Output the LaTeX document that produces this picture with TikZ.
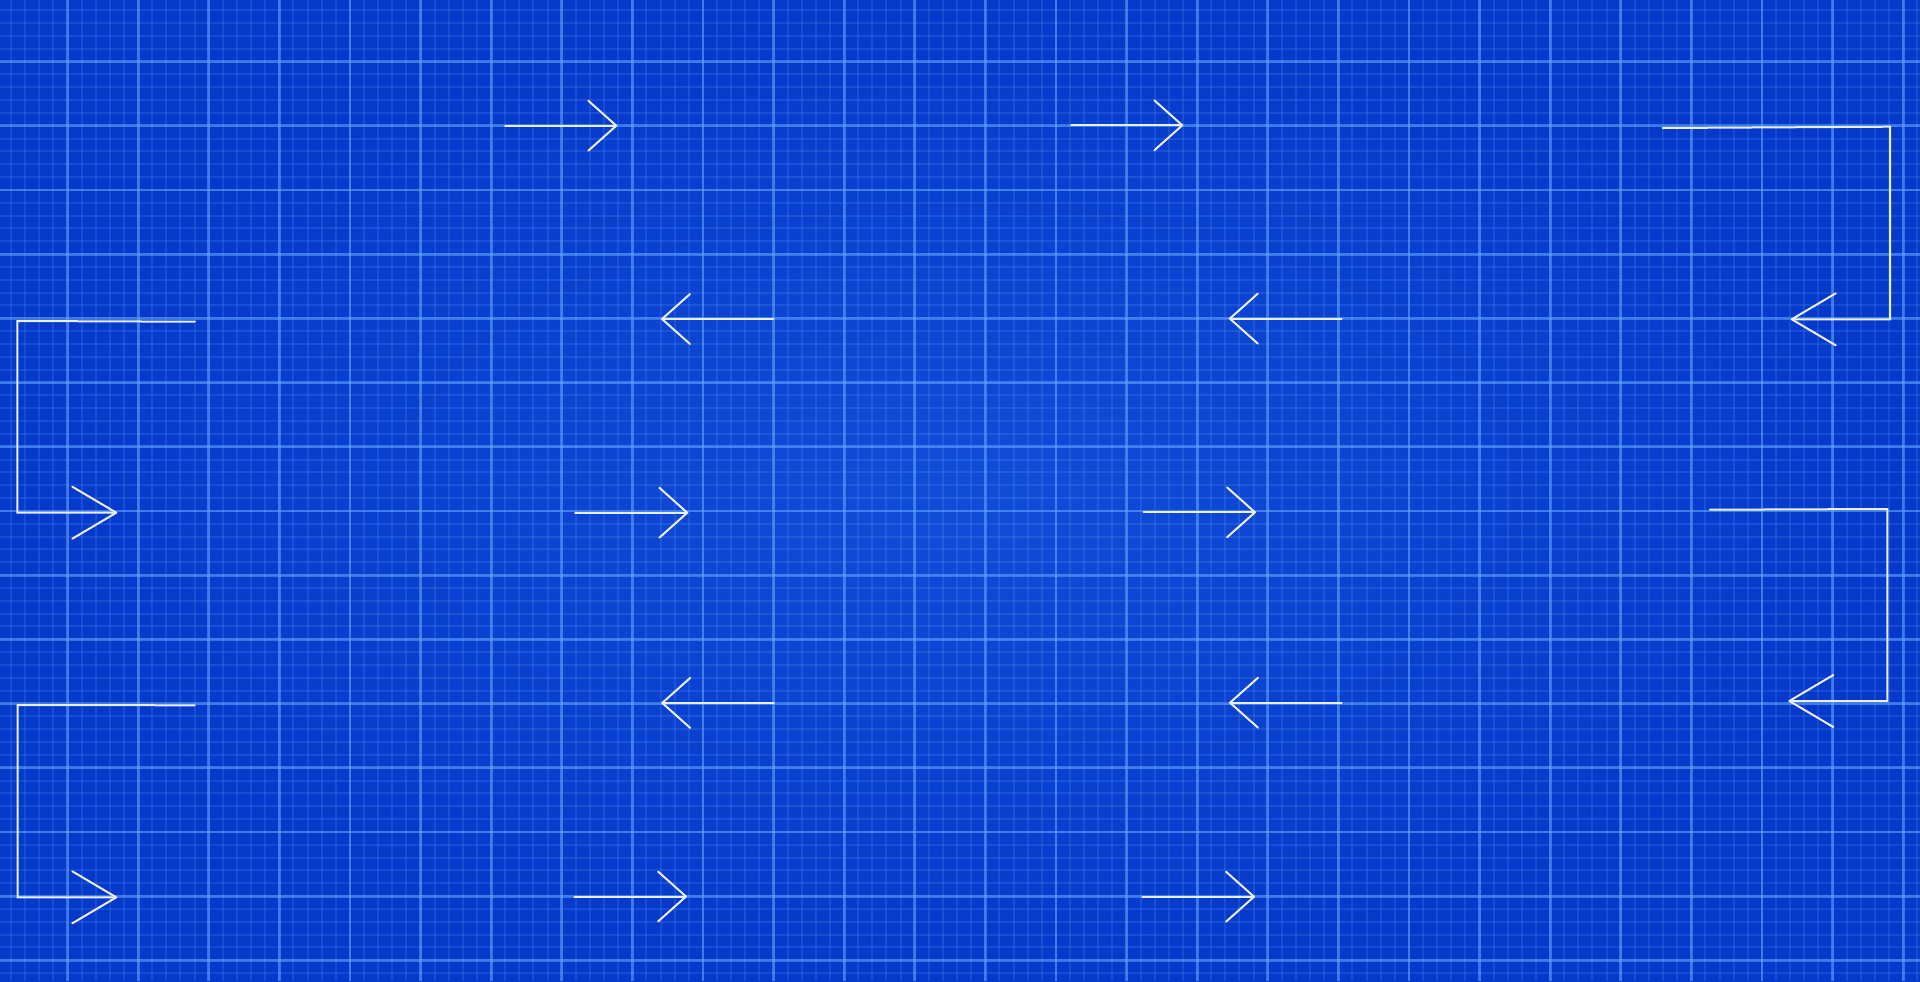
\documentclass[tikz,border=0pt]{standalone}
\usetikzlibrary{arrows.meta}
\definecolor{bgin}{RGB}{17,76,215}
\definecolor{bgout}{RGB}{6,56,202}
\definecolor{gridcol}{RGB}{100,170,255}
\definecolor{arrowcol}{RGB}{232,238,250}
\tikzset{
  majorline/.style={draw=gridcol, draw opacity=0.5, line width=1.4pt},
  minorline/.style={draw=gridcol, draw opacity=0.18, line width=1pt},
  straightarrow/.style={draw=arrowcol, line width=1pt, line cap=round, line join=round,
    -{Straight Barb[length=14pt, width=25pt, line join=round, round]}},
  bentarrow/.style={draw=arrowcol, line width=1pt, line cap=round, line join=miter,
    -{Straight Barb[length=22pt, width=26pt, line join=round, round]}}
}
\begin{document}
\begin{tikzpicture}[x=0.5pt, y=-0.5pt]
  % background
  \useasboundingbox (0,0) rectangle (1920,981);
  \shade[inner color=bgin, outer color=bgout] (0,0) rectangle (1920,981);
  % minor grid
  \foreach \i in {-4,...,131} {
    \pgfmathsetmacro{\gx}{67.5+14.12*\i}
    \draw[minorline] (\gx,0) -- (\gx,981);
  }
  \foreach \j in {-4,...,71} {
    \pgfmathsetmacro{\gy}{61.5+12.84*\j}
    \draw[minorline] (0,\gy) -- (1920,\gy);
  }
  % major grid
  \foreach \i in {-1,...,26} {
    \pgfmathsetmacro{\gx}{67.5+70.6*\i}
    \draw[majorline] (\gx,0) -- (\gx,981);
  }
  \foreach \j in {-1,...,14} {
    \pgfmathsetmacro{\gy}{61.5+64.2*\j}
    \draw[majorline] (0,\gy) -- (1920,\gy);
  }
  % coordinates of straight arrows
  \coordinate (r1as) at (505,125.7);   \coordinate (r1at) at (617.3,125.7);
  \coordinate (r1bs) at (1071,125.3);  \coordinate (r1bt) at (1183.3,125.3);
  \coordinate (r2as) at (773.3,319);   \coordinate (r2at) at (661,319);
  \coordinate (r2bs) at (1341.5,318.6);\coordinate (r2bt) at (1228.8,318.6);
  \coordinate (r3as) at (575,512.7);   \coordinate (r3at) at (688.3,512.7);
  \coordinate (r3bs) at (1143.5,512.3);\coordinate (r3bt) at (1256,512.3);
  \coordinate (r4as) at (773.9,702.9); \coordinate (r4at) at (661.2,702.9);
  \coordinate (r4bs) at (1341.7,702.7);\coordinate (r4bt) at (1229,702.7);
  \coordinate (r5as) at (574.3,896.5); \coordinate (r5at) at (687,896.5);
  \coordinate (r5bs) at (1142.3,896.7);\coordinate (r5bt) at (1255,896.7);
  % coordinates of bent arrows
  \coordinate (l1s) at (1662.7,128);  \coordinate (l1c1) at (1890,126.7);
  \coordinate (l1c2) at (1890,319.3); \coordinate (l1t) at (1790.7,319.3);
  \coordinate (l2s) at (1710,509.7);  \coordinate (l2c1) at (1887.3,509);
  \coordinate (l2c2) at (1887.3,701); \coordinate (l2t) at (1788.3,701);
  \coordinate (l3s) at (195,321.7);   \coordinate (l3c1) at (17.3,321);
  \coordinate (l3c2) at (17.3,512.7); \coordinate (l3t) at (117.3,512.7);
  \coordinate (l4s) at (194.7,705.3); \coordinate (l4c1) at (17.7,705);
  \coordinate (l4c2) at (17.7,897.3); \coordinate (l4t) at (117.3,897.3);
  % straight arrows
  \foreach \a in {r1a,r1b,r2a,r2b,r3a,r3b,r4a,r4b,r5a,r5b} {
    \draw[straightarrow] (\a s) -- (\a t);
  }
  % bent arrows
  \foreach \b in {l1,l2,l3,l4} {
    \draw[bentarrow] (\b s) -- (\b c1) -- (\b c2) -- (\b t);
  }
\end{tikzpicture}
\end{document}
